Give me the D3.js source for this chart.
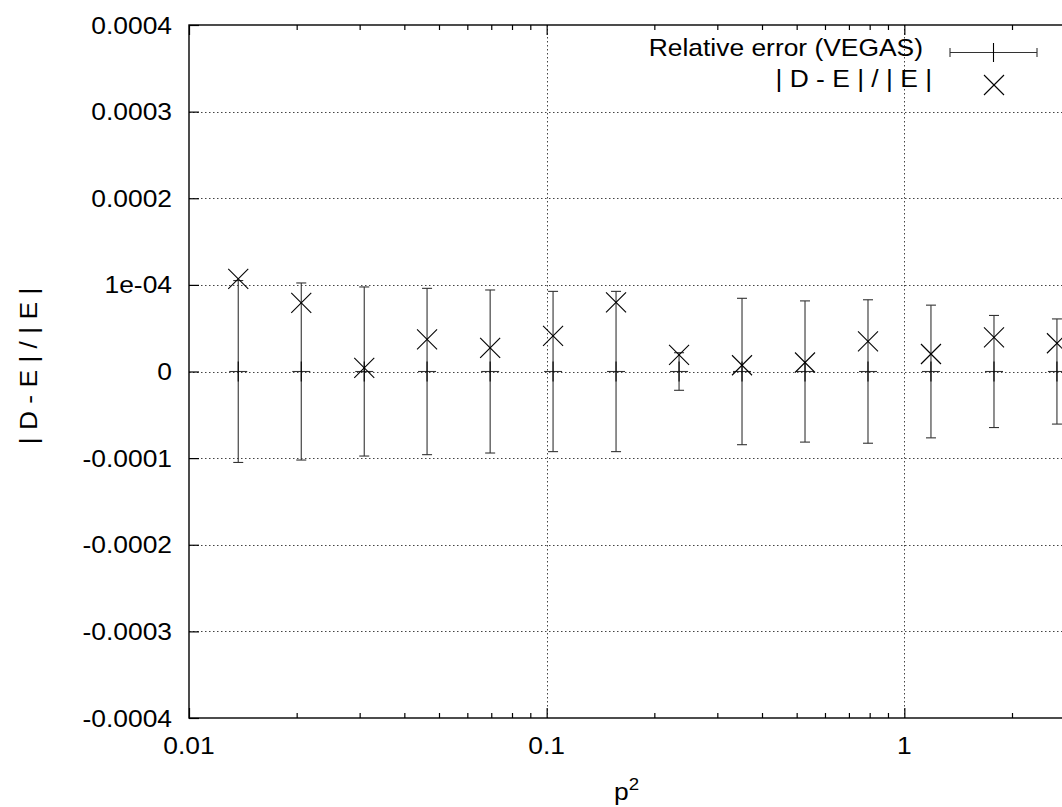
<!DOCTYPE html>
<html>
<head>
<meta charset="utf-8">
<script src="https://cdn.jsdelivr.net/npm/d3@7"></script>
<style>
  html, body { margin: 0; padding: 0; background: #fff; }
  svg { display: block; }
  text { font-family: "Liberation Sans", Arial, Helvetica, sans-serif; fill: #000; }
</style>
</head>
<body>
<svg id="chart" width="1062" height="807"></svg>
<script>
// Momentum points p^2
const p2 = [0.01373, 0.0206, 0.0309, 0.0463, 0.0695, 0.1042, 0.1563,
            0.2345, 0.3517, 0.5276, 0.7914, 1.187, 1.781, 2.671];
// VEGAS relative error (half-width of error bar, centred on zero)
const relErr = [1.05e-4, 1.022e-4, 0.976e-4, 0.96e-4, 0.941e-4, 0.925e-4, 0.925e-4,
                0.217e-4, 0.845e-4, 0.815e-4, 0.828e-4, 0.766e-4, 0.647e-4, 0.607e-4];
// |D - E| / |E|
const deviation = [1.068e-4, 0.791e-4, 0.043e-4, 0.372e-4, 0.273e-4, 0.411e-4, 0.798e-4,
                   0.192e-4, 0.072e-4, 0.104e-4, 0.349e-4, 0.202e-4, 0.395e-4, 0.326e-4];

const yTicks = [0.0004, 0.0003, 0.0002, 0.0001, 0, -0.0001, -0.0002, -0.0003, -0.0004];
const yTickLabels = ["0.0004", "0.0003", "0.0002", "1e-04", "0", "-0.0001", "-0.0002", "-0.0003", "-0.0004"];
const xTicks = [0.01, 0.1, 1];
const xTickLabels = ["0.01", "0.1", "1"];
const legendLabels = ["Relative error (VEGAS)", "| D - E | / | E |"];

const svg = d3.select("#chart");
const plotL = 189, plotT = 25, plotB = 718, plotR = 1262;
const FS = 24, SX = 1.1;

const x = d3.scaleLog().domain([0.01, 10]).range([plotL, plotR]);
const y = d3.scaleLinear().domain([-0.0004, 0.0004]).range([plotB, plotT]);

// Text with the slightly wide glyph proportions of the original terminal
function label(g, tx, ty, str, anchor, size) {
  return g.append("text")
    .attr("transform", `translate(${tx},${ty}) scale(${SX},1)`)
    .attr("text-anchor", anchor || "start")
    .attr("font-size", size || FS)
    .text(str);
}

// Grid
const grid = svg.append("g").attr("stroke", "#444").attr("stroke-width", 1)
  .attr("stroke-dasharray", "1.5,2.5");
yTicks.filter(v => v > -0.0004 && v < 0.0004).forEach(v => {
  grid.append("line").attr("x1", plotL).attr("x2", plotR)
    .attr("y1", Math.round(y(v)) + 0.5).attr("y2", Math.round(y(v)) + 0.5);
});
xTicks.filter(v => v > 0.01 && v < 10).forEach(v => {
  grid.append("line").attr("y1", plotT).attr("y2", plotB)
    .attr("x1", Math.round(x(v)) + 0.5).attr("x2", Math.round(x(v)) + 0.5);
});

// Axes via d3 axis generators, ticks pointing inward
const minorX = [];
[0.01, 0.1, 1].forEach(d => { for (let k = 2; k <= 9; k++) minorX.push(d * k); });

const axG = svg.append("g");
axG.append("g").attr("transform", `translate(${plotL},0)`)
  .call(d3.axisLeft(y).tickValues(yTicks).tickSize(-10).tickFormat(""));
axG.append("g").attr("transform", `translate(0,${plotB})`)
  .call(d3.axisBottom(x).tickValues(xTicks).tickSize(-10).tickFormat(""));
axG.append("g").attr("transform", `translate(0,${plotB})`)
  .call(d3.axisBottom(x).tickValues(minorX).tickSize(-5).tickFormat(""));
axG.append("g").attr("transform", `translate(0,${plotT})`)
  .call(d3.axisTop(x).tickValues(xTicks).tickSize(-10).tickFormat(""));
axG.append("g").attr("transform", `translate(0,${plotT})`)
  .call(d3.axisTop(x).tickValues(minorX).tickSize(-5).tickFormat(""));
axG.selectAll(".domain").remove();
axG.selectAll("line").attr("stroke", "#000").attr("stroke-width", 1.2);

// Border
svg.append("rect").attr("x", plotL).attr("y", plotT)
  .attr("width", plotR - plotL).attr("height", plotB - plotT)
  .attr("fill", "none").attr("stroke", "#000").attr("stroke-width", 1.4);

// Tick labels
const labG = svg.append("g");
yTicks.forEach((v, i) => label(labG, plotL - 17, y(v) + 8.5, yTickLabels[i], "end"));
xTicks.forEach((v, i) => label(labG, x(v), plotB + 36, xTickLabels[i], "middle"));

// Axis titles
const xt = label(svg, 614, 800, "p", "start");
xt.append("tspan").attr("dy", -10).attr("font-size", 17).text("2");
svg.append("text")
  .attr("transform", `translate(37,366) rotate(-90) scale(${SX},1)`)
  .attr("text-anchor", "middle").attr("font-size", FS)
  .text("| D - E | / | E |");

// Error bars: relative error centred on zero
const eb = svg.append("g").attr("stroke", "#333").attr("stroke-width", 1.1);
p2.forEach((p, i) => {
  const cx = x(p), y0 = y(-relErr[i]), y1 = y(relErr[i]);
  eb.append("line").attr("x1", cx).attr("x2", cx).attr("y1", y0).attr("y2", y1);
  eb.append("line").attr("x1", cx - 5).attr("x2", cx + 5).attr("y1", y0).attr("y2", y0);
  eb.append("line").attr("x1", cx - 5).attr("x2", cx + 5).attr("y1", y1).attr("y2", y1);
  eb.append("line").attr("x1", cx - 9).attr("x2", cx + 9).attr("y1", y(0)).attr("y2", y(0));
  eb.append("line").attr("x1", cx).attr("x2", cx).attr("y1", y(0) - 10).attr("y2", y(0) + 10)
    .attr("stroke", "#000");
});

// Cross markers for |D - E| / |E|
const cm = svg.append("g").attr("stroke", "#000").attr("stroke-width", 1.1);
function cross(g, cx, cy, r) {
  g.append("line").attr("x1", cx - r).attr("x2", cx + r).attr("y1", cy - r).attr("y2", cy + r);
  g.append("line").attr("x1", cx - r).attr("x2", cx + r).attr("y1", cy + r).attr("y2", cy - r);
}
p2.forEach((p, i) => cross(cm, x(p), y(deviation[i]), 10));

// Legend
const lg = svg.append("g");
label(lg, 923, 56, legendLabels[0], "end");
label(lg, 932, 87, legendLabels[1], "end");
const ls = lg.append("g").attr("stroke", "#333").attr("stroke-width", 1.1);
ls.append("line").attr("x1", 950).attr("x2", 1037).attr("y1", 52.5).attr("y2", 52.5);
ls.append("line").attr("x1", 950).attr("x2", 950).attr("y1", 48).attr("y2", 57);
ls.append("line").attr("x1", 1037).attr("x2", 1037).attr("y1", 48).attr("y2", 57);
ls.append("line").attr("x1", 993.5).attr("x2", 993.5).attr("y1", 43).attr("y2", 62).attr("stroke", "#000");
cross(lg.append("g").attr("stroke", "#000").attr("stroke-width", 1.1), 994, 85, 10);
</script>
</body>
</html>
